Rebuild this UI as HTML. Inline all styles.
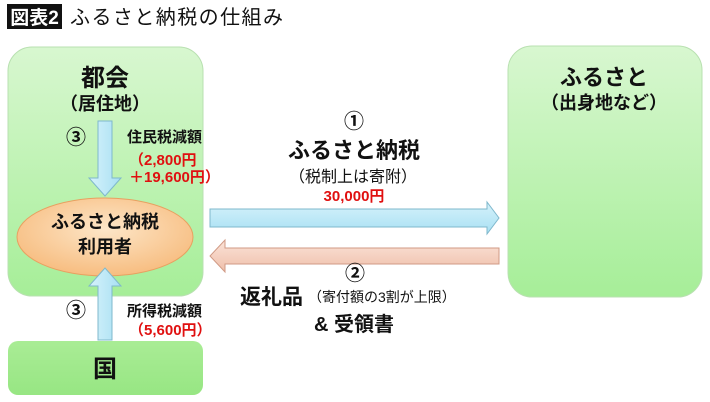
<!DOCTYPE html>
<html><head><meta charset="utf-8"><style>
html,body{margin:0;padding:0;background:#fff;}
svg{display:block;}
text{font-family:"Liberation Sans","Noto Sans CJK JP",sans-serif;}
.b{font-weight:bold;}
</style></head><body>
<svg width="710" height="402" viewBox="0 0 710 402" xmlns="http://www.w3.org/2000/svg">
<defs>
<linearGradient id="g" x1="0" y1="0" x2="0" y2="1"><stop offset="0" stop-color="#d8f7d0"/><stop offset="1" stop-color="#a6ee98"/></linearGradient>
<linearGradient id="g2" x1="0" y1="0" x2="0" y2="1"><stop offset="0" stop-color="#a9ec95"/><stop offset="1" stop-color="#97e683"/></linearGradient>
<radialGradient id="e" cx="0.5" cy="0.4" r="0.6"><stop offset="0" stop-color="#fde6c8"/><stop offset="1" stop-color="#f7bd80"/></radialGradient>
<linearGradient id="ba" x1="0" y1="0" x2="0" y2="1"><stop offset="0" stop-color="#d6f2fb"/><stop offset="1" stop-color="#a8e0f3"/></linearGradient>
<linearGradient id="bv" x1="0" y1="0" x2="1" y2="0"><stop offset="0" stop-color="#d6f2fb"/><stop offset="1" stop-color="#a8e0f3"/></linearGradient>
<linearGradient id="pa" x1="0" y1="0" x2="0" y2="1"><stop offset="0" stop-color="#fbe3d8"/><stop offset="1" stop-color="#efbfaa"/></linearGradient>
</defs>
<rect x="7" y="4" width="55" height="25" fill="#111"/>
<text x="34.5" y="24" fill="#fff" font-size="19" class="b" text-anchor="middle">図表2</text>
<text x="70" y="24" font-size="20" fill="#111" textLength="213">ふるさと納税の仕組み</text>

<rect x="8" y="47" width="195" height="249" rx="24" fill="url(#g)" stroke="#b8e0b0" stroke-width="1"/>
<rect x="508" y="46" width="194" height="251" rx="24" fill="url(#g)" stroke="#b8e0b0" stroke-width="1"/>
<rect x="8" y="341" width="195" height="54" rx="10" fill="url(#g2)"/>

<path d="M98,121 H112 V178 H121 L105,196 L89,178 H98 Z" fill="url(#bv)" stroke="#7fb8cc" stroke-width="1"/>
<ellipse cx="105" cy="237" rx="88" ry="39" fill="url(#e)" stroke="#e8a060" stroke-width="1"/>
<path d="M98,340 H112 V286 H121 L105,268 L89,286 H98 Z" fill="url(#bv)" stroke="#7fb8cc" stroke-width="1"/>
<path d="M210,209 H487 V202 L499,218 L487,234 V227 H210 Z" fill="url(#ba)" stroke="#7fb8cc" stroke-width="1"/>
<path d="M499,248 H225 V240 L210,256 L225,272 V264 H499 Z" fill="url(#pa)" stroke="#d09a85" stroke-width="1"/>

<g class="b" text-anchor="middle" fill="#111">
<text x="105" y="86" font-size="24">都会</text>
<text x="105" y="110" font-size="18">（居住地）</text>
<text x="604" y="85" font-size="22">ふるさと</text>
<text x="604" y="109" font-size="18">（出身地など）</text>
<text x="105" y="228" font-size="18">ふるさと納税</text>
<text x="105" y="253" font-size="18">利用者</text>
<text x="105" y="377" font-size="24">国</text>
<text x="354" y="158" font-size="22">ふるさと納税</text>
<text x="354" y="331" font-size="20">&amp; 受領書</text>
</g>
<g font-size="20" class="b" fill="#111" text-anchor="middle">
<text x="76" y="144">③</text>
<text x="76" y="317">③</text>
<text x="354" y="128">①</text>
<text x="355" y="280">②</text>
</g>
<g class="b" font-size="15" fill="#111">
<text x="127" y="142">住民税減額</text>
<text x="127" y="316">所得税減額</text>
</g>
<g class="b" font-size="15" fill="#e01010">
<text x="129" y="165">（2,800円</text>
<text x="129" y="182">＋19,600円）</text>
<text x="129" y="335">（5,600円）</text>
<text x="354" y="201" text-anchor="middle">30,000円</text>
</g>
<text x="353" y="182" font-size="16" fill="#111" text-anchor="middle">（税制上は寄附）</text>
<text x="240" y="304" font-size="21" class="b" fill="#111">返礼品</text>
<text x="308" y="302" font-size="14" fill="#111">（寄付額の3割が上限）</text>
</svg>
</body></html>
